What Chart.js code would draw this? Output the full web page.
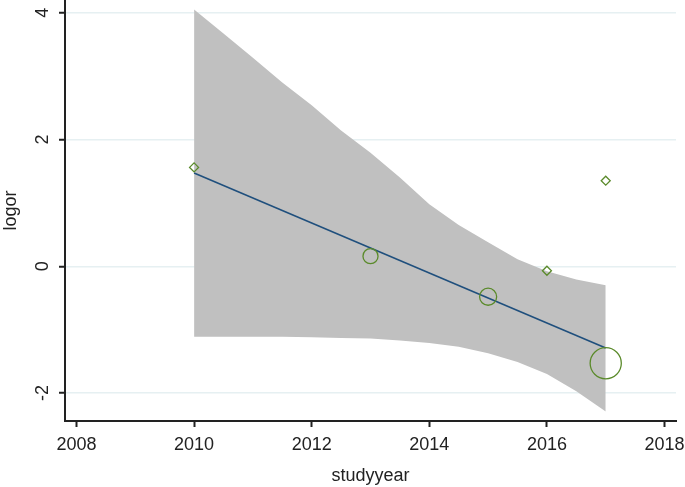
<!DOCTYPE html>
<html>
<head>
<meta charset="utf-8">
<script src="https://cdn.jsdelivr.net/npm/chart.js@4"></script>
<style>
  html, body { margin: 0; padding: 0; background: #fff; }
</style>
</head>
<body>
<canvas id="chartMeta" width="685" height="487"></canvas>
<script>
// studies
let studyYear = [2010, 2013, 2015, 2016, 2017, 2017];
let logOr = [1.56, 0.16, -0.48, -0.07, 1.35, -1.53];
let weights = [1, 2.8, 3.6, 1, 1, 12];

// fitted line
let fitYear = [2010, 2017];
let fitValue = [1.47, -1.29];

// confidence band
let bandYear = [2010, 2010.5, 2011, 2011.5, 2012, 2012.5, 2013, 2013.5, 2014, 2014.5, 2015, 2015.5, 2016, 2016.5, 2017];
let bandUpper = [4.05, 3.67, 3.29, 2.90, 2.54, 2.14, 1.79, 1.40, 0.98, 0.65, 0.38, 0.11, -0.08, -0.21, -0.30];
let bandLower = [-1.11, -1.11, -1.11, -1.11, -1.12, -1.13, -1.14, -1.17, -1.21, -1.27, -1.37, -1.51, -1.70, -1.97, -2.29];

// ticks
let xTicks = [2008, 2010, 2012, 2014, 2016, 2018];
let yTicks = [-2, 0, 2, 4];

let font = "'Liberation Sans', Arial, sans-serif";

function pairs(xs, ys) {
  return xs.map(function(x, i) { return { x: x, y: ys[i] }; });
}

// y tick labels are drawn turned, like the original
let turnedTicks = {
  id: 'turnedTicks',
  afterDraw: function(chart) {
    let ctx = chart.ctx;
    let y = chart.scales.y;
    ctx.save();
    ctx.fillStyle = '#222';
    ctx.font = '18px ' + font;
    ctx.textAlign = 'center';
    ctx.textBaseline = 'middle';
    y.ticks.forEach(function(t) {
      ctx.save();
      ctx.translate(43, y.getPixelForValue(t.value));
      ctx.rotate(-Math.PI / 2);
      ctx.fillText(String(t.value), 0, 0);
      ctx.restore();
    });
    ctx.restore();
  }
};

let meta = document.getElementById('chartMeta').getContext('2d');

let chartMeta = new Chart(meta, {
  type: 'scatter',
  data: {
    datasets: [{
      data: pairs(studyYear, logOr),
      pointStyle: weights.map(function(w) { return w < 2 ? 'rectRot' : 'circle'; }),
      pointRadius: weights.map(function(w) { return w < 2 ? 4.5 : 4.5 * Math.sqrt(w); }),
      pointBorderColor: '#5a8a2a',
      pointBackgroundColor: 'rgba(0,0,0,0)',
      pointBorderWidth: 1.3,
      clip: false,
      order: 0
    }, {
      type: 'line',
      data: pairs(fitYear, fitValue),
      borderColor: '#1f4f7d',
      borderWidth: 1.6,
      pointRadius: 0,
      fill: false,
      order: 1
    }, {
      type: 'line',
      data: pairs(bandYear, bandUpper),
      borderWidth: 0,
      borderColor: 'rgba(0,0,0,0)',
      backgroundColor: '#c0c0c0',
      pointRadius: 0,
      fill: '+1',
      order: 2
    }, {
      type: 'line',
      data: pairs(bandYear, bandLower),
      borderWidth: 0,
      borderColor: 'rgba(0,0,0,0)',
      pointRadius: 0,
      fill: false,
      order: 3
    }]
  },
  options: {
    responsive: false,
    animation: false,
    layout: { autoPadding: false, padding: { left: 0, right: 9, top: 0, bottom: 0 } },
    plugins: {
      legend: { display: false },
      tooltip: { enabled: false }
    },
    scales: {
      x: {
        type: 'linear',
        min: 2007.805,
        max: 2018.195,
        afterBuildTicks: function(s) { s.ticks = xTicks.map(function(v) { return { value: v }; }); },
        afterFit: function(s) { s.height = 66; s.paddingLeft = 0; s.paddingRight = 0; },
        border: { color: '#222', width: 2 },
        grid: { drawOnChartArea: false, tickLength: 6, tickColor: '#222', tickWidth: 2 },
        ticks: {
          color: '#222', font: { family: font, size: 18 }, padding: 7,
          maxRotation: 0, autoSkip: false,
          callback: function(v) { return String(v); }
        },
        title: { display: true, text: 'studyyear', color: '#222', font: { family: font, size: 18 }, padding: { top: 0, bottom: 0 } }
      },
      y: {
        min: -2.44,
        max: 4.2,
        afterBuildTicks: function(s) { s.ticks = yTicks.map(function(v) { return { value: v }; }); },
        afterFit: function(s) { s.width = 65; s.paddingTop = 0; s.paddingBottom = 0; },
        border: { color: '#222', width: 2 },
        grid: { color: '#e6f0f2', lineWidth: 1.5, tickLength: 6, tickColor: '#222', tickWidth: 2 },
        ticks: { display: false },
        title: { display: true, text: 'logor', color: '#222', font: { family: font, size: 18 }, padding: { top: 0, bottom: 0 } }
      }
    }
  },
  plugins: [turnedTicks]
});
</script>
</body>
</html>
